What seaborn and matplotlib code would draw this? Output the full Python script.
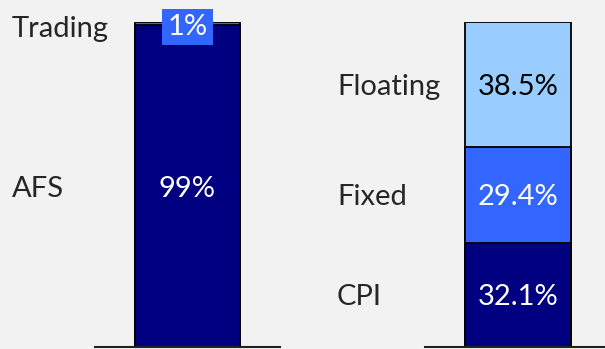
import matplotlib
matplotlib.use("Agg")
import matplotlib.pyplot as plt
import matplotlib.transforms as mtransforms
import seaborn as sns

BG = "#f2f2f2"
NAVY = "#000080"
BLUE = "#3366ff"
LIGHT = "#99ccff"

left_labels = ["AFS", "Trading"]
left_values = [99, 1]
left_colors = [NAVY, BLUE]
left_text = ["99%", "1%"]

right_labels = ["CPI", "Fixed", "Floating"]
right_values = [32.1, 29.4, 38.5]
right_colors = [NAVY, BLUE, LIGHT]
right_text = ["32.1%", "29.4%", "38.5%"]

sns.set_style("white")
plt.rcParams["font.family"] = ["Lato", "DejaVu Sans"]
FS = 21

W, H = 605, 349
fig = plt.figure(figsize=(W / 100, H / 100), dpi=100, facecolor=BG)


def stacked(ax, values, colors):
    cum = []
    total = 0
    for v in values:
        total += v
        cum.append(total)
    # draw from the top layer down so lower segments sit in front
    for c, col in reversed(list(zip(cum, colors))):
        sns.barplot(x=["s"], y=[c], color=col, saturation=1, width=105 / 185,
                    edgecolor="black", linewidth=1.3, ax=ax)
    ax.set_xlim(-0.5, 0.5)
    ax.set_ylim(0, 100)
    ax.set_facecolor(BG)
    for s in ["top", "left", "right"]:
        ax.spines[s].set_visible(False)
    ax.spines["bottom"].set_color("#222222")
    ax.spines["bottom"].set_linewidth(1.5)
    ax.set_xticks([])
    ax.set_yticks([])
    ax.set_xlabel("")
    ax.set_ylabel("")
    starts = [c - v for c, v in zip(cum, values)]
    return starts


y0 = 2 / H
hgt = 325 / H
ax1 = fig.add_axes([95 / W, y0, 185 / W, hgt])
ax2 = fig.add_axes([425 / W, y0, 186 / W, hgt])

VA = "center_baseline"

# left bar
st = stacked(ax1, left_values, left_colors)
tr1 = mtransforms.blended_transform_factory(fig.transFigure, ax1.transData)
ax1.text(0, st[0] + left_values[0] / 2, left_text[0], color="white",
         ha="center", va=VA, fontsize=FS)
ax1.text(0, 99.2, left_text[1], color="white", ha="center", va=VA,
         fontsize=FS, bbox=dict(facecolor=BLUE, edgecolor="none", pad=3.5))
ax1.text(12 / W, st[0] + left_values[0] / 2, left_labels[0], transform=tr1,
         ha="left", va=VA, fontsize=FS)
ax1.text(12 / W, 98.6, left_labels[1], transform=tr1,
         ha="left", va=VA, fontsize=FS)

# right bar
st = stacked(ax2, right_values, right_colors)
tr2 = mtransforms.blended_transform_factory(fig.transFigure, ax2.transData)
for lab, v, s, t, col in zip(right_labels, right_values, st, right_text, right_colors):
    mid = s + v / 2
    ax2.text(0, mid, t, color="black" if col == LIGHT else "white",
             ha="center", va=VA, fontsize=FS)
    ax2.text(337 / W, mid, lab, transform=tr2, ha="left", va=VA, fontsize=FS)

fig.savefig("out.png", dpi=100, facecolor=BG)
